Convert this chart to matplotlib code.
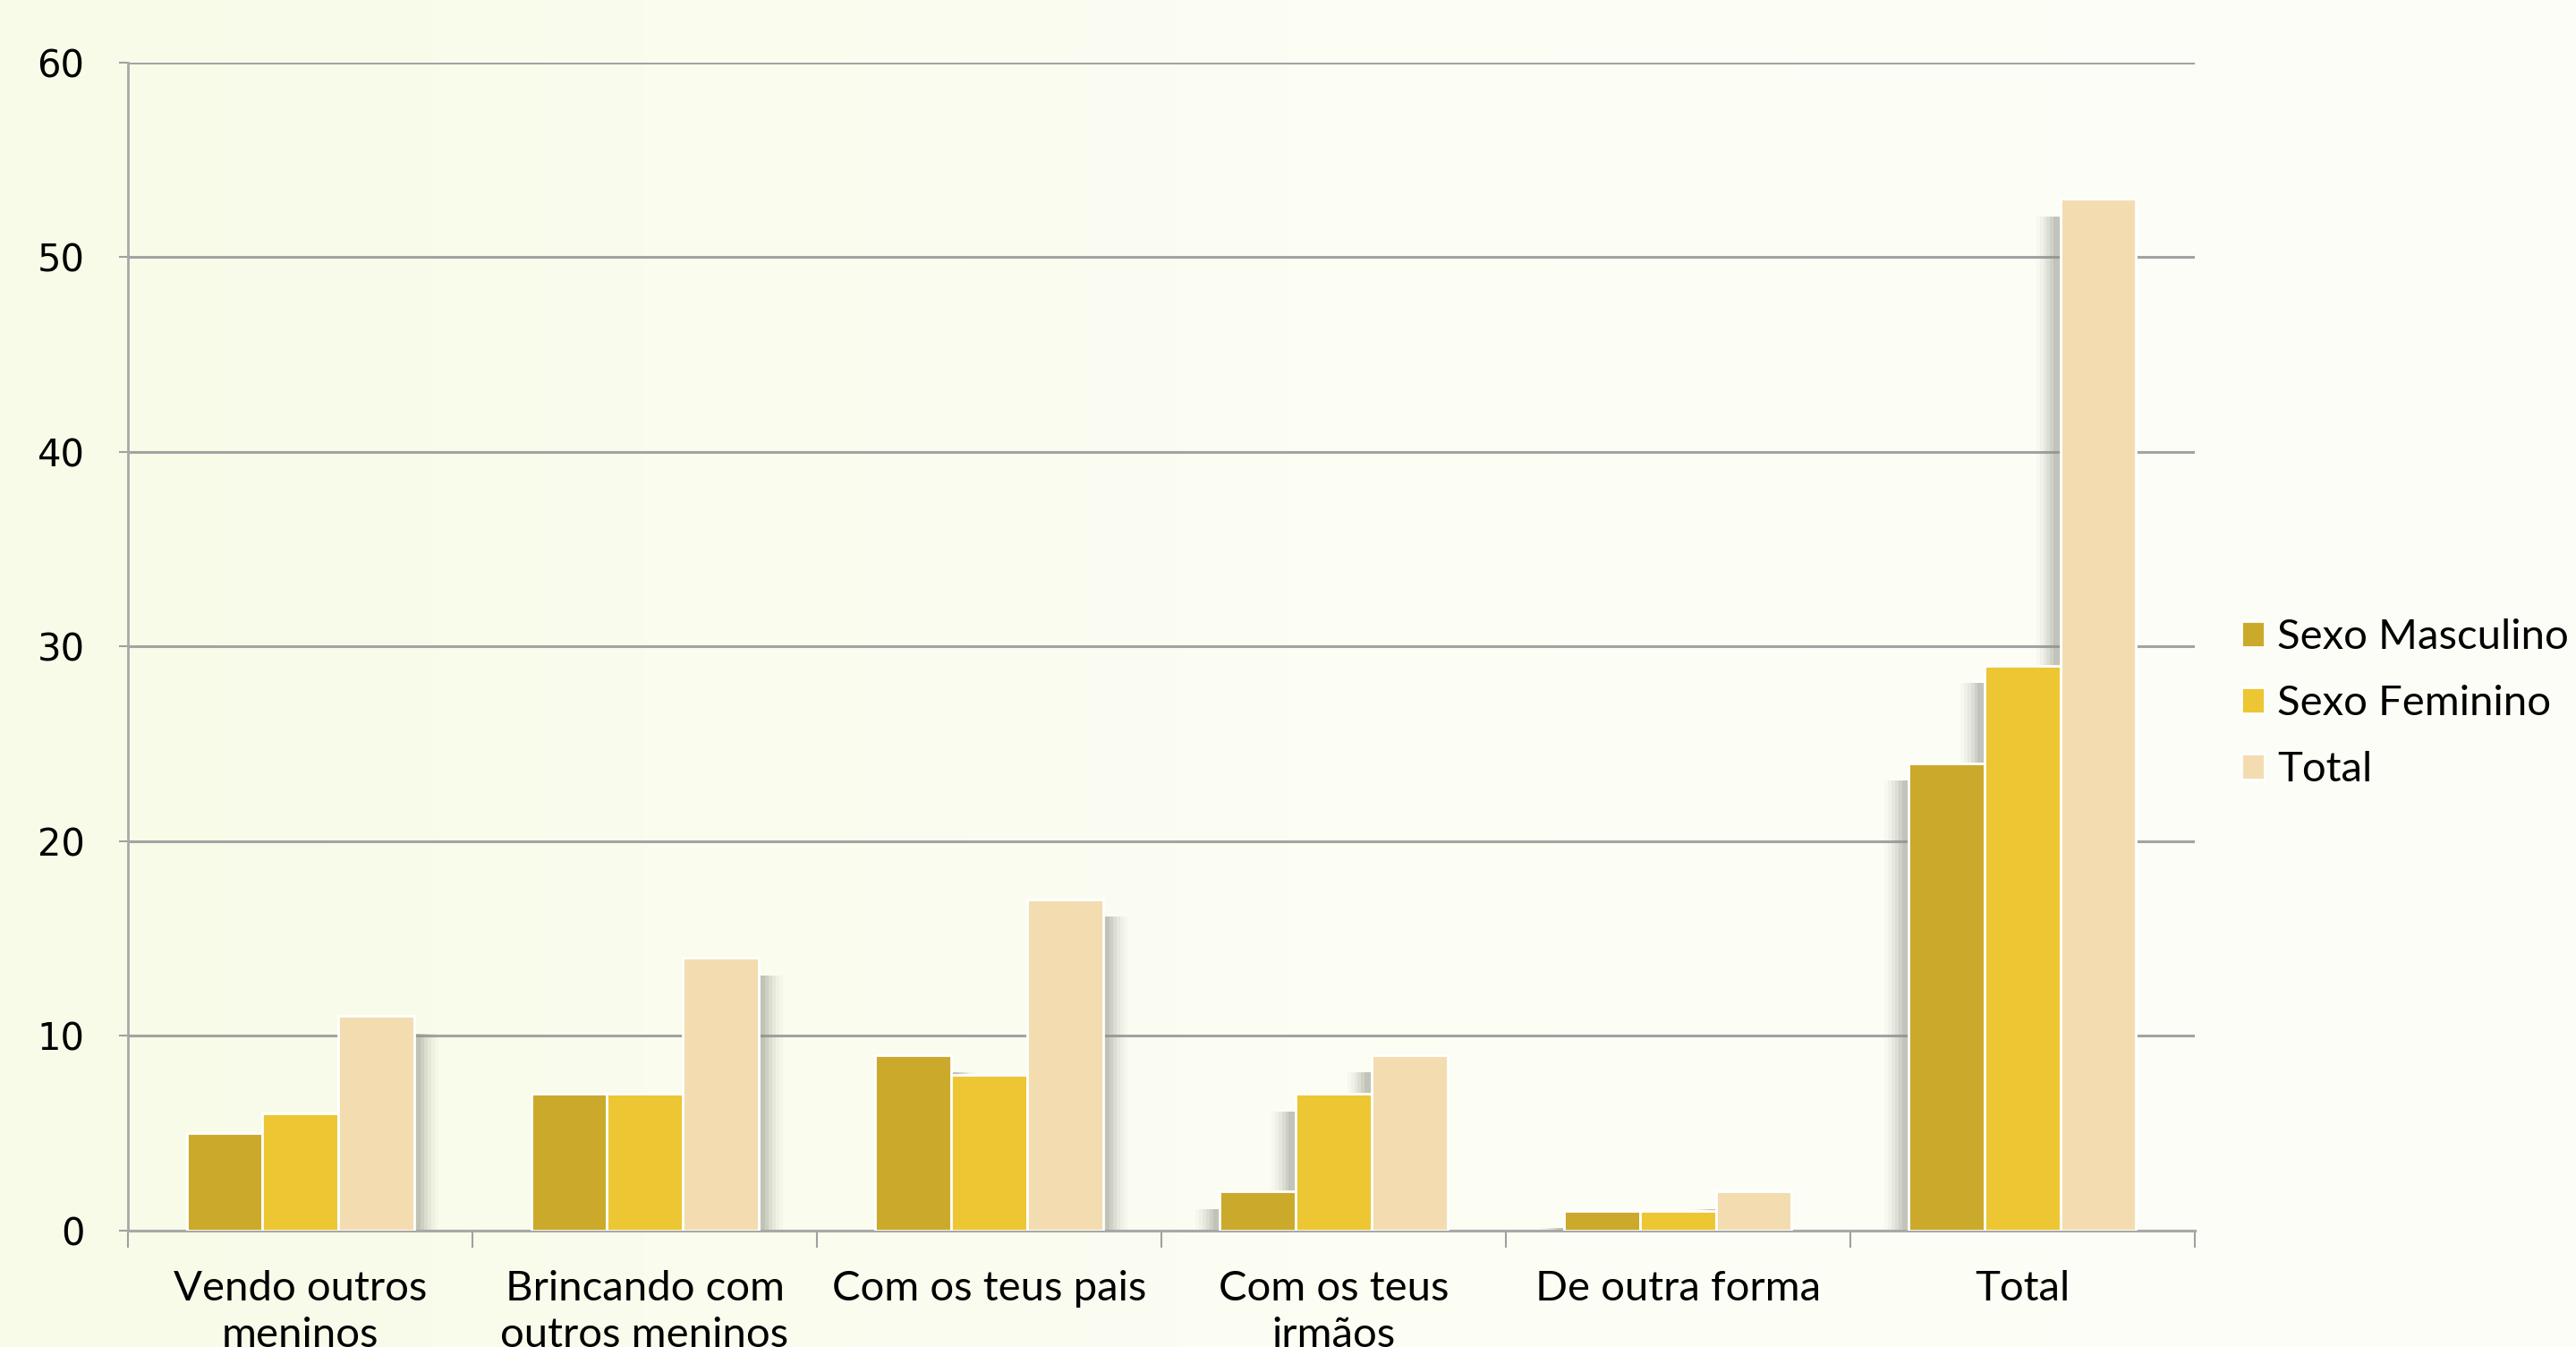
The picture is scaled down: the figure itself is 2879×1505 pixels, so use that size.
import numpy as np
import matplotlib
matplotlib.use("Agg")
import matplotlib.pyplot as plt
from matplotlib.colors import LinearSegmentedColormap

categories = ["Vendo outros\nmeninos", "Brincando com\noutros meninos", "Com os teus pais",
              "Com os teus\nirmãos", "De outra forma", "Total"]
series_names = ["Sexo Masculino", "Sexo Feminino", "Total"]
masculino = [5, 7, 9, 2, 1, 24]
feminino = [6, 7, 8, 7, 1, 29]
total = [11, 14, 17, 9, 2, 53]
colors = ["#CBAA2B", "#EDC633", "#F3DDB0"]

fig = plt.figure(figsize=(28.79, 15.05), dpi=100)

# soft background gradient
bg = fig.add_axes([0, 0, 1, 1], zorder=-10)
grad = np.linspace(0, 1, 256).reshape(1, -1)
cmap = LinearSegmentedColormap.from_list("bg", ["#F8FBE7", "#FCFDF3", "#FDFDF8"])
bg.imshow(grad, aspect="auto", cmap=cmap, extent=[0, 1, 0, 1])
bg.axis("off")

ax = fig.add_axes([0.0497, 0.0866, 0.8023, 0.8671])
ax.set_facecolor("none")

x = np.arange(len(categories))
w = 0.22
values = [masculino, feminino, total]
mid = (len(categories) - 1) / 2

# drop shadows, cast away from the centre of the plot (layered for a soft edge)
for j, vals in enumerate(values):
    xs = x + (j - 1) * w
    for k in range(len(vals)):
        side = 1 if x[k] < mid else -1
        for s, a in [(0.07, 0.04), (0.06, 0.06), (0.05, 0.09), (0.04, 0.12),
                     (0.03, 0.16), (0.02, 0.2)]:
            ax.bar(xs[k] + side * s, max(vals[k] - 0.9, 0), width=w, color="#8F9186",
                   alpha=a, linewidth=0, zorder=2)

for j, vals in enumerate(values):
    ax.bar(x + (j - 1) * w, vals, width=w, color=colors[j], edgecolor="white",
           linewidth=2, label=series_names[j], zorder=3)

ax.set_ylim(0, 60)
ax.set_xlim(-0.5, len(categories) - 0.5)
ax.set_yticks(range(0, 61, 10))
ax.yaxis.grid(True, color="#A3A3A3", linewidth=2.2)
ax.set_axisbelow(True)

ax.set_xticks(x)
ax.set_xticklabels(categories, fontsize=34, family=["Lato"],
                   linespacing=1.3, va="top")
ax.set_xticks(np.arange(-0.5, len(categories)), minor=True)
ax.tick_params(axis="x", which="major", length=0, pad=32)
ax.tick_params(axis="x", which="minor", length=14, width=1.5, color="#A0A0A0")
ax.tick_params(axis="y", length=7, width=1.5, color="#A0A0A0", pad=28, labelsize=30)

for side in ["top", "right"]:
    ax.spines[side].set_visible(False)
ax.spines["left"].set_color("#A8A8A8")
ax.spines["left"].set_linewidth(2)
ax.spines["bottom"].set_color("#A8A8A8")
ax.spines["bottom"].set_linewidth(2.2)

ax.legend(loc="center left", bbox_to_anchor=(1.0, 0.451), frameon=False,
          prop={"family": "Lato", "size": 34}, handlelength=0.55, handleheight=0.55,
          handletextpad=0.3, labelspacing=0.68, borderaxespad=0.7)

plt.savefig("out.png", dpi=100)
